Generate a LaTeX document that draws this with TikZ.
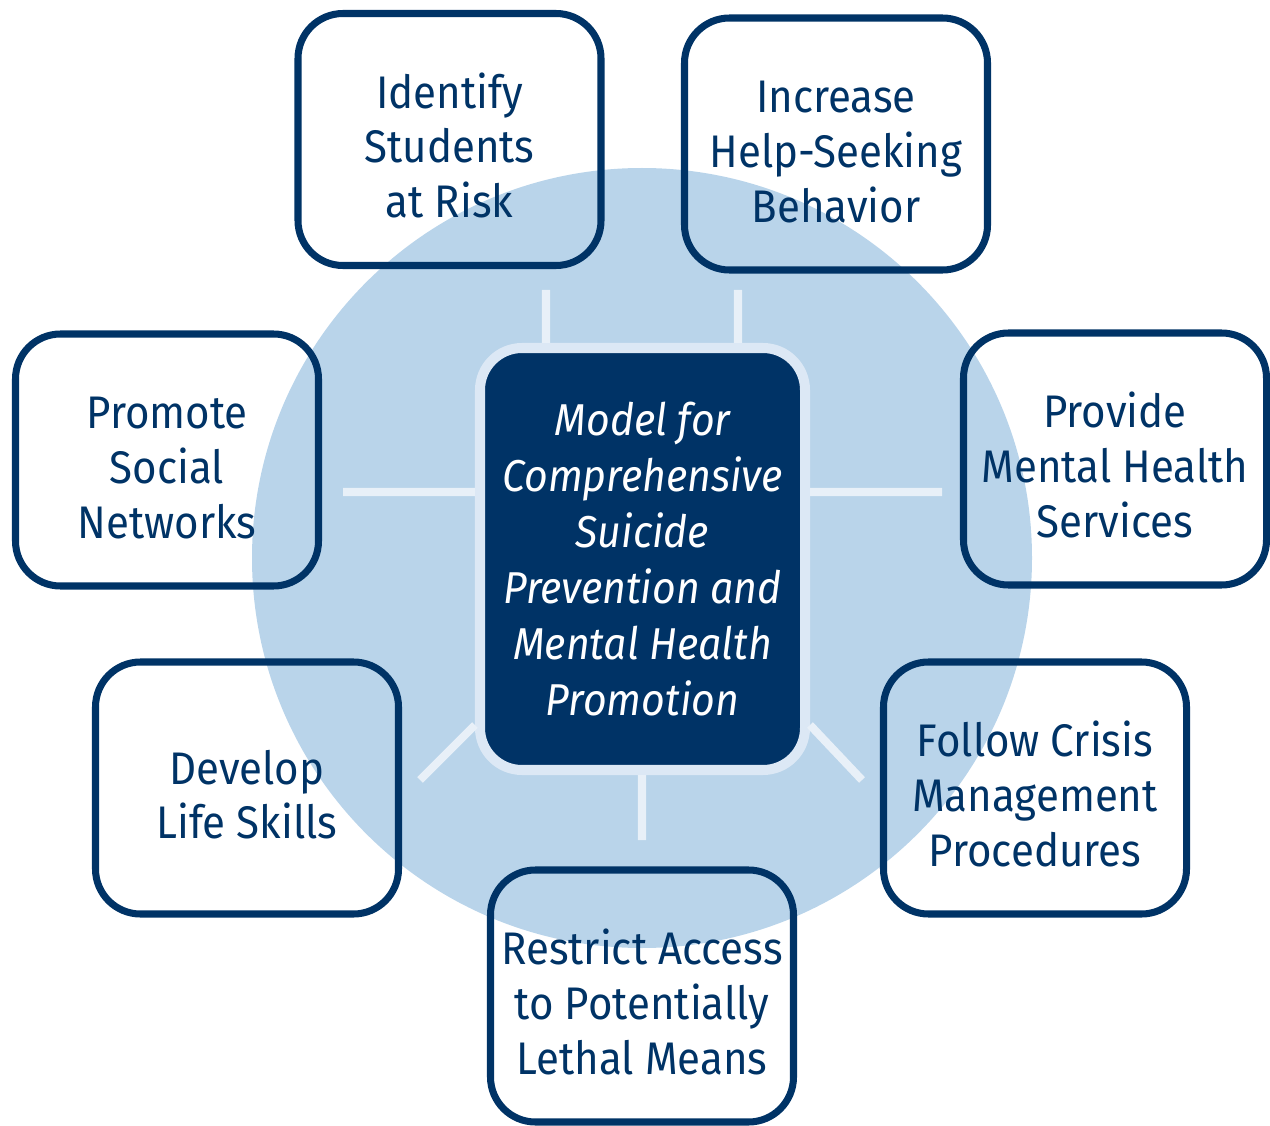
\documentclass[tikz,border=0pt]{standalone}
\usepackage{fontspec}
\setmainfont{Fira Sans}[FakeStretch=0.92]
\usetikzlibrary{calc}
\definecolor{navy}{RGB}{0,51,102}
\definecolor{disc}{RGB}{185,212,234}
\definecolor{pale}{RGB}{220,232,245}
\definecolor{spokecol}{RGB}{232,240,248}
\newcommand\topstrut{\rule{0pt}{13.5pt}}

\begin{document}
\begin{tikzpicture}[
	goal/.style={draw=navy, line width=2pt, rounded corners=0.45cm, inner sep=1pt, minimum width=3.03cm, minimum height=2.52cm, align=center, text=navy, font=\fontsize{13}{15.6}\selectfont},
	model/.style={draw=pale, fill=navy, line width=2.85pt, rounded corners=0.42cm, inner sep=1pt, minimum width=3.25cm, minimum height=4.22cm, align=center, text=white, font=\fontsize{12.7}{15.9}\selectfont\itshape},
	spoke/.style={draw=spokecol, line width=2.3pt}]
	\useasboundingbox (0,0) rectangle (12.7,11.25);
	\fill[disc] (6.42,5.67) circle (3.9);

	\coordinate (ta) at (5.46,8.35);
	\coordinate (tb) at (7.38,8.35);
	\coordinate (ml) at (3.43,6.33);
	\coordinate (mr) at (9.42,6.33);
	\coordinate (dl) at (4.20,3.45);
	\coordinate (dr) at (8.62,3.45);
	\coordinate (mb) at (6.42,2.85);

	\node[model]	(ctr)	at (6.425,5.66)	{Model for\\Comprehensive\\Suicide\\Prevention and\\Mental Health\\Promotion};

	\path[spoke]
	(ta)	--	(ta |- ctr.north)
	(tb)	--	(tb |- ctr.north)
	(ml)	--	(ml -| ctr.west)
	(mr)	--	(mr -| ctr.east)
	(mb)	--	(mb |- ctr.south)
	(dl)	--	($(ctr.south west)+(0,0.5)$)
	(dr)	--	($(ctr.south east)+(0,0.5)$);

	\node[goal]	(ident)		at (4.495,9.855)	{\topstrut Identify\\Students\\at Risk};
	\node[goal]	(helpseek)	at (8.36,9.81)		{\topstrut Increase\\Help-Seeking\\Behavior};
	\node[goal]	(social)	at (1.67,6.65)		{\topstrut Promote\\Social\\Networks};
	\node[goal]	(services)	at (11.15,6.66)		{\topstrut Provide\\Mental Health\\Services};
	\node[goal]	(skills)	at (2.47,3.37)		{\topstrut Develop\\Life Skills};
	\node[goal]	(crisis)	at (10.35,3.37)		{\topstrut Follow Crisis\\Management\\Procedures};
	\node[goal]	(means)		at (6.42,1.29)		{\topstrut Restrict Access\\to Potentially\\Lethal Means};
\end{tikzpicture}
\end{document}
